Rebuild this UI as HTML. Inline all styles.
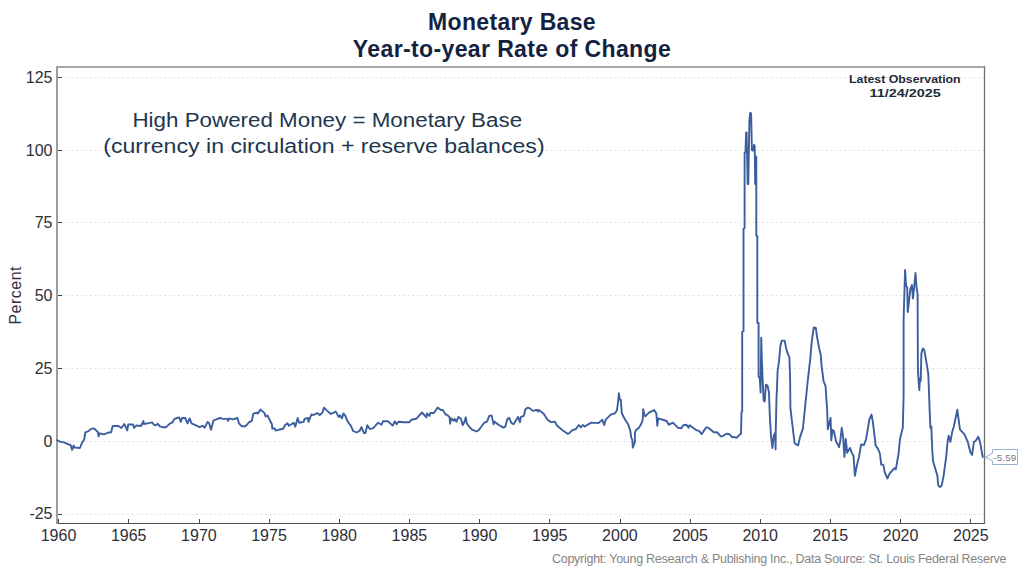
<!DOCTYPE html>
<html><head><meta charset="utf-8">
<style>
html,body{margin:0;padding:0;}
body{width:1024px;height:576px;background:#fff;position:relative;overflow:hidden;font-family:"Liberation Sans",sans-serif;}
.a{position:absolute;white-space:nowrap;}
svg{position:absolute;left:0;top:0;}
.s{display:inline-block;transform-origin:50% 50%;white-space:nowrap;}
.g{stroke:#e0e0e0;stroke-width:1;stroke-dasharray:2 2.6;}
.t{stroke:#444;stroke-width:1;}
.lab{font-family:"Liberation Sans",sans-serif;font-size:16px;fill:#2f2f36;}
</style></head><body>
<svg width="1024" height="576" viewBox="0 0 1024 576">
<line x1="58" y1="77.5" x2="984" y2="77.5" class="g"/><line x1="57" y1="77.5" x2="62" y2="77.5" class="t"/><line x1="58" y1="150.5" x2="984" y2="150.5" class="g"/><line x1="57" y1="150.5" x2="62" y2="150.5" class="t"/><line x1="58" y1="222.5" x2="984" y2="222.5" class="g"/><line x1="57" y1="222.5" x2="62" y2="222.5" class="t"/><line x1="58" y1="295.5" x2="984" y2="295.5" class="g"/><line x1="57" y1="295.5" x2="62" y2="295.5" class="t"/><line x1="58" y1="368.5" x2="984" y2="368.5" class="g"/><line x1="57" y1="368.5" x2="62" y2="368.5" class="t"/><line x1="58" y1="441.5" x2="984" y2="441.5" class="g"/><line x1="57" y1="441.5" x2="62" y2="441.5" class="t"/><line x1="58" y1="514.5" x2="984" y2="514.5" class="g"/><line x1="57" y1="514.5" x2="62" y2="514.5" class="t"/>
<g class="lab"><text x="52.5" y="82.8" text-anchor="end">125</text><text x="52.5" y="155.5" text-anchor="end">100</text><text x="52.5" y="228.3" text-anchor="end">75</text><text x="52.5" y="301.1" text-anchor="end">50</text><text x="52.5" y="373.8" text-anchor="end">25</text><text x="52.5" y="446.6" text-anchor="end">0</text><text x="52.5" y="519.4" text-anchor="end">-25</text><line x1="58.5" y1="519" x2="58.5" y2="523" class="t"/><text x="58.5" y="540.8" text-anchor="middle">1960</text><line x1="128.5" y1="519" x2="128.5" y2="523" class="t"/><text x="128.7" y="540.8" text-anchor="middle">1965</text><line x1="199.5" y1="519" x2="199.5" y2="523" class="t"/><text x="198.9" y="540.8" text-anchor="middle">1970</text><line x1="269.5" y1="519" x2="269.5" y2="523" class="t"/><text x="269.0" y="540.8" text-anchor="middle">1975</text><line x1="339.5" y1="519" x2="339.5" y2="523" class="t"/><text x="339.2" y="540.8" text-anchor="middle">1980</text><line x1="409.5" y1="519" x2="409.5" y2="523" class="t"/><text x="409.4" y="540.8" text-anchor="middle">1985</text><line x1="479.5" y1="519" x2="479.5" y2="523" class="t"/><text x="479.6" y="540.8" text-anchor="middle">1990</text><line x1="549.5" y1="519" x2="549.5" y2="523" class="t"/><text x="549.7" y="540.8" text-anchor="middle">1995</text><line x1="620.5" y1="519" x2="620.5" y2="523" class="t"/><text x="619.9" y="540.8" text-anchor="middle">2000</text><line x1="690.5" y1="519" x2="690.5" y2="523" class="t"/><text x="690.1" y="540.8" text-anchor="middle">2005</text><line x1="760.5" y1="519" x2="760.5" y2="523" class="t"/><text x="760.2" y="540.8" text-anchor="middle">2010</text><line x1="830.5" y1="519" x2="830.5" y2="523" class="t"/><text x="830.4" y="540.8" text-anchor="middle">2015</text><line x1="900.5" y1="519" x2="900.5" y2="523" class="t"/><text x="900.6" y="540.8" text-anchor="middle">2020</text><line x1="970.5" y1="519" x2="970.5" y2="523" class="t"/><text x="970.8" y="540.8" text-anchor="middle">2025</text></g>
<line x1="984.5" y1="66" x2="984.5" y2="524" stroke="#6a6f74" stroke-width="1.3"/>
<line x1="56" y1="67" x2="985" y2="67" stroke="#888c90" stroke-width="1.7"/>
<line x1="56" y1="523.5" x2="985" y2="523.5" stroke="#4d5156" stroke-width="1.2"/>
<line x1="57" y1="66" x2="57" y2="524" stroke="#9a9ea2" stroke-width="2"/>
<polyline points="57,440.2 59.9,441.6 64.8,442.6 67.7,444.1 70.6,445 72.1,449.9 73.6,445.5 74.5,447.5 79.9,448 81.9,443.1 84.3,439.2 85.3,432.3 88.2,431.4 91.1,428.9 94,428.4 98,432.3 98.5,436.3 99.9,433.3 103.8,434.3 107.7,432.8 111.2,432.3 112.6,426 118.5,426 121.4,428 124.3,424 127.3,430.4 128.2,424.5 133.1,424.5 134.1,428 136.1,425.5 141,426 143.4,421.1 143.9,424 148.8,423.1 152,422.3 153.9,424.8 155.9,425.3 157.8,423.8 159.8,426.3 162.7,427.2 166.1,427.2 169.5,423.8 172.5,422.3 174.4,418.9 179.3,417.5 180.8,421.9 182.2,418 185.2,418 187.6,423.3 189.6,418.4 191.5,423.3 195.9,425.3 199.8,427.2 202.7,425.8 204.7,427.7 207.6,421.9 209.1,423.3 211,429.7 213.5,420.4 216.4,419.4 219.8,418 223.2,418.9 227.1,418.9 228.1,420.9 229.1,418.4 233,419.4 237.4,418 238.9,423.3 241.8,426.3 245.3,426.3 247,424.8 248.9,422.3 251.8,420.9 253.3,413.6 256.7,412.6 257.7,413.6 260.6,409.6 264.5,413.1 265.5,416.5 267.5,415.5 269.4,419.4 271.9,424.3 272.3,428.7 274.3,428.2 275.8,430.6 278.7,429.7 283.1,428.7 285,425.3 287.5,423.3 288.9,425.8 293.8,422.8 295.3,426.7 297.7,418 299.2,422.8 303.6,421.9 304.6,418.9 308,418 308.5,421.9 311.4,414.5 313.4,415 317.3,413.1 319.7,415 322.1,413.1 324.1,407.7 327,410.6 330.9,414 335.8,411.6 338.8,417 340,415.4 342,418.3 343.4,413.4 345.4,415.9 347.3,420.8 349.3,423.7 350.7,425.6 353.2,431 356.6,432.5 359.5,431 361.5,427.1 363.9,433 365.4,433 367.3,425.2 369.8,429.1 373.2,428.1 378.1,422.7 381.5,424.7 383,421.3 387.9,421.3 392.7,425.6 394.7,421.3 396.6,424.2 398.6,421.7 403.5,422.2 409.3,422.2 411.3,419.8 416.2,418.8 422,412.5 426.4,417.3 426.9,413.4 429.4,415.9 430.3,413 433.8,413 437.7,407.6 440.9,410 442.8,410 445.7,414.4 447.7,415.4 449.6,417.3 450.1,423.7 451.1,418.3 453.6,420.8 454.5,418.8 456.5,421.7 458.4,416.9 460.9,418.8 462.8,425.2 464.3,422.2 465.8,417.3 466.7,423.2 469.2,426.6 472.1,429.6 476.5,431.5 478.9,430 483.8,423.2 487.2,421.3 489.2,415.9 491.6,415.4 493.6,424.2 494.6,421.7 498.5,424.7 503.4,427.6 505.3,426.6 507.3,419.3 509.2,417.8 511.2,422.7 513.6,424.2 518,416.9 520,422.2 520.9,416.9 523.9,415.9 525.3,409.5 527.8,407.6 530,408.4 532.9,410.9 536.8,409.9 537.8,411.4 538.8,409.9 543.7,413.8 546.6,418.2 547.6,419.7 551,422.1 554.9,421.6 556.9,425.5 562.2,429.9 567.6,433.8 569.1,433.3 572,430.4 575.9,429 578.8,425 580.8,427.5 582.7,425 584.7,426.5 588.6,424.1 591.5,422.6 598.4,423.1 602.3,419.7 604.2,425 605.7,419.7 611.1,414.3 615,413.3 616.9,410.4 617.9,403.6 618.9,393.3 619.8,399.6 620.8,399.6 621.8,413.3 625,419.5 628.1,424.2 630.2,430.4 631.3,437.7 632.3,439.8 632.8,447.6 633.9,445 634.9,441.9 634.9,432.5 636.5,429.4 638.5,428.3 641.1,424.2 642.7,420 643.2,409.1 644.3,414.3 645.3,416.4 649,412.7 654.2,410.1 656.3,413.2 657.3,425.7 658.3,418.4 663.5,420 666.7,421 668.8,424.7 672.9,422.6 678.1,427.8 681.3,428.3 683.3,425.2 686.5,424.7 688.5,427.8 689.6,425.2 696.9,430.4 699,430.9 701.6,434.1 706.3,427.3 708.3,427.8 713.5,432 716.7,432.5 717.1,432.2 720.7,436.4 722.3,436.4 726.5,433.75 729.6,434.3 732.2,437.4 733.75,436.9 736.4,437.9 740,434.3 741,433.75 741.5,412.5 742.2,411.3 742.2,332 743.5,331 743.5,229 744.6,228 744.6,153 745.5,152 746.1,132.5 746.6,132.5 747.7,184 748.3,184 749.4,120 750.3,112.8 751.1,113.5 751.9,150 753.1,150.5 754.1,144.8 754.7,145.5 755.2,184 755.6,184 756,156.5 756.3,157 756.3,235.6 757.3,236 757.3,322.8 758.6,323 758.6,376.9 759.7,376.9 760.6,392.5 761.25,337.8 762,364.4 763.6,400.3 764.7,401.5 765.9,384.7 767.5,385.5 769,392.5 769.8,416 771,435.6 772.4,448 773.75,435.6 775.1,432.8 775.6,449.4 775.8,428.6 776.5,398 776.9,390 777.6,371.1 779,361.4 780.4,346.1 781.8,340.6 784.6,340.6 786,347.5 787.4,353 789.4,357.2 790.1,378 790.4,407.8 792.5,425.8 794.6,443.2 796.7,444.6 798.1,445.3 800.1,436.9 802.9,428.6 805,407.8 806.8,390 808.2,376.7 810.3,358.6 811.7,341.9 813.75,327.4 815.8,328 817.2,337.8 819.3,348.9 820.7,354.4 821.4,364.2 823.5,380.8 825.6,386.4 826.4,400 827.1,408.3 827.8,429.2 829.2,423.6 830.6,418 831.25,440.3 832.6,429.9 834,431.25 836.1,441.7 838.2,445.1 838.9,447.2 840.3,441 841.7,427.8 843.1,436.1 844.4,456.9 845.8,438.9 847.2,452.8 850,447.9 852.1,453.5 853.5,455.6 854.9,475.7 856.9,465.3 859,456.9 861.1,444.4 863.9,445.1 866,439.6 869.4,419.4 871.5,414.6 872.9,422.2 875.7,445.8 877.8,448.6 879.9,453.5 881.25,464.6 883.3,464.6 884.7,472.2 887.5,478.5 889.6,473.6 894.4,468.1 895.8,469.4 898.6,453.5 900,438.9 901.4,433.3 902.8,427.8 903.5,400 903.6,395.7 903.6,320 904.1,302.7 905.1,269.9 906.1,286 907.2,287.1 907.7,312.1 908.75,303.75 910.3,289.2 911.9,285 912.9,298.5 914,289.2 915.5,273 916.6,288.1 917.6,294.4 917.9,368.6 918.6,381.1 919.3,390.1 920,378.3 920.7,381.1 921.4,353.3 922.8,348.5 924.2,349.9 925.6,357.5 927,365.8 928.3,374.2 929,392.2 929.6,408.9 930.4,428 931.3,426.3 932.2,448.8 933,461 935.6,469.7 937.4,475.8 938.2,485.3 940,487.1 941.7,485.3 943.5,476.6 946.1,457.5 947.8,440.2 948.7,435.8 950.4,441.9 952.1,432.3 953.9,426.3 957.3,409.8 960,429.7 964.3,434.1 967.8,441.9 970.4,452.3 972.1,454.9 973.9,441.9 975.6,441 978.2,436.7 980,441.9 982.5,455.8 982.8,457" fill="none" stroke="#3b5e9f" stroke-width="1.9" stroke-linejoin="round" stroke-linecap="round"/>
<path d="M992.5,449.5 H1017.5 V464.5 H992.5 V461 L985.5,457.2 L992.5,453 Z" fill="#fff" stroke="#9ab0d0" stroke-width="1"/>
<text x="1004.8" y="460.6" text-anchor="middle" font-family="Liberation Sans" font-size="9.8" letter-spacing="0.15" fill="#777">-5.59</text>
<text transform="translate(21.3,295.3) rotate(-90)" text-anchor="middle" font-family="Liberation Sans" font-size="16" letter-spacing="0.5" fill="#2f3340">Percent</text>
</svg>
<div class="a" id="t1" style="left:0;width:1024px;text-align:center;top:9px;font-size:23px;letter-spacing:0.33px;font-weight:bold;color:#13233f;line-height:26px;">Monetary Base</div>
<div class="a" id="t2" style="left:0;width:1024px;text-align:center;top:36px;font-size:23px;letter-spacing:0.38px;font-weight:bold;color:#13233f;line-height:26px;">Year-to-year Rate of Change</div>
<div class="a" style="left:0;width:655px;text-align:center;top:107px;line-height:26px;"><span id="n1" class="s" style="transform:scaleX(1.118);font-size:20px;color:#22364f;">High Powered Money = Monetary Base</span></div>
<div class="a" style="left:0;width:648.5px;text-align:center;top:133px;line-height:26px;"><span id="n2" class="s" style="transform:scaleX(1.156);font-size:20px;color:#22364f;">(currency in circulation + reserve balances)</span></div>
<div class="a" style="left:849.5px;width:110px;text-align:center;top:71px;line-height:14px;"><span id="o1" class="s" style="transform:scaleX(1.12);font-size:11px;font-weight:bold;color:#222a38;">Latest Observation</span></div>
<div class="a" style="left:855px;width:100px;text-align:center;top:85px;line-height:14px;"><span id="o2" class="s" style="transform:scaleX(1.31);font-size:11px;font-weight:bold;color:#222a38;">11/24/2025</span></div>
<div class="a" id="cp" style="left:552px;top:551px;font-size:12.5px;letter-spacing:-0.27px;color:#858585;line-height:16px;">Copyright: Young Research &amp; Publishing Inc., Data Source: St. Louis Federal Reserve</div>
</body></html>
